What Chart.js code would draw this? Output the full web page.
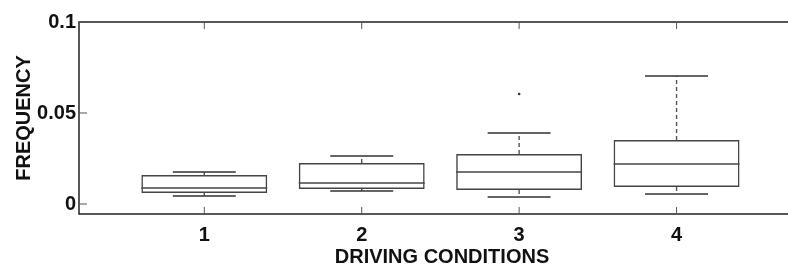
<!DOCTYPE html>
<html>
<head>
<meta charset="utf-8">
<script src="https://cdn.jsdelivr.net/npm/chart.js@4"></script>
<style>
  html, body { margin: 0; padding: 0; background: #fff; overflow: hidden; }
  canvas { display: block; }
</style>
</head>
<body>
<canvas id="box-chart" width="809" height="266"></canvas>
<script>
// box plot values
const conditions = [1, 2, 3, 4];
const lowerWhisker = [0.0044, 0.0071, 0.0038, 0.0055];
const q1 = [0.0060, 0.0082, 0.0077, 0.0093];
const median = [0.0088, 0.0115, 0.0176, 0.0220];
const q3 = [0.0159, 0.0225, 0.0275, 0.0352];
const upperWhisker = [0.0176, 0.0264, 0.0390, 0.0703];
const outlierX = [3];
const outlierY = [0.0604];
const yTicks = [0, 0.05, 0.1];
const yTickLabels = ["0", "0.05", "0.1"];

const boxData = conditions.map((c, i) => ({ x: c, y: [q1[i], q3[i]] }));
const outlierData = outlierX.map((x, i) => ({ x: x, y: outlierY[i] }));

const boxPlotPlugin = {
  id: "boxPlot",
  afterDatasetsDraw(chart) {
    const ctx = chart.ctx;
    const xs = chart.scales.x;
    const ys = chart.scales.y;
    const area = chart.chartArea;
    ctx.save();

    conditions.forEach((c, i) => {
      const cx = xs.getPixelForValue(c);
      const capL = xs.getPixelForValue(c - 0.2);
      const capR = xs.getPixelForValue(c + 0.2);
      const boxL = xs.getPixelForValue(c - 0.4);
      const boxR = xs.getPixelForValue(c + 0.4);

      // median
      ctx.strokeStyle = "#444";
      ctx.lineWidth = 1.4;
      ctx.setLineDash([]);
      ctx.beginPath();
      ctx.moveTo(boxL, ys.getPixelForValue(median[i]));
      ctx.lineTo(boxR, ys.getPixelForValue(median[i]));
      ctx.stroke();

      // whiskers (dashed)
      ctx.strokeStyle = "#555";
      ctx.setLineDash([4, 3]);
      ctx.beginPath();
      ctx.moveTo(cx, ys.getPixelForValue(q3[i]));
      ctx.lineTo(cx, ys.getPixelForValue(upperWhisker[i]));
      ctx.moveTo(cx, ys.getPixelForValue(q1[i]));
      ctx.lineTo(cx, ys.getPixelForValue(lowerWhisker[i]));
      ctx.stroke();

      // caps
      ctx.setLineDash([]);
      ctx.strokeStyle = "#333";
      ctx.lineWidth = 1.5;
      ctx.beginPath();
      ctx.moveTo(capL, ys.getPixelForValue(upperWhisker[i]));
      ctx.lineTo(capR, ys.getPixelForValue(upperWhisker[i]));
      ctx.moveTo(capL, ys.getPixelForValue(lowerWhisker[i]));
      ctx.lineTo(capR, ys.getPixelForValue(lowerWhisker[i]));
      ctx.stroke();
    });

    // frame: left, top, bottom
    ctx.strokeStyle = "#222";
    ctx.lineWidth = 1.5;
    ctx.beginPath();
    ctx.moveTo(area.right, area.top);
    ctx.lineTo(area.left, area.top);
    ctx.lineTo(area.left, area.bottom);
    ctx.lineTo(area.right, area.bottom);
    ctx.stroke();

    // inward tick marks
    ctx.strokeStyle = "#555";
    ctx.lineWidth = 1;
    ctx.beginPath();
    yTicks.forEach((v) => {
      const y = ys.getPixelForValue(v);
      ctx.moveTo(area.left, y);
      ctx.lineTo(area.left + 8, y);
    });
    conditions.forEach((c) => {
      const x = xs.getPixelForValue(c);
      ctx.moveTo(x, area.bottom);
      ctx.lineTo(x, area.bottom - 7);
      ctx.moveTo(x, area.top);
      ctx.lineTo(x, area.top + 7);
    });
    ctx.stroke();
    ctx.restore();
  },
};

const font = { family: "'Liberation Sans', Arial, sans-serif", size: 20, weight: "bold" };

new Chart(document.getElementById("box-chart"), {
  type: "bar",
  data: {
    datasets: [
      {
        type: "bar",
        data: boxData,
        backgroundColor: "rgba(255,255,255,0)",
        borderColor: "#444",
        borderWidth: 1.5,
        borderSkipped: false,
        barPercentage: 0.8,
        categoryPercentage: 1.0,
      },
      {
        type: "scatter",
        data: outlierData,
        pointRadius: 1.3,
        pointBackgroundColor: "#333",
        pointBorderColor: "#333",
        pointBorderWidth: 0,
      },
    ],
  },
  options: {
    responsive: false,
    animation: false,
    layout: { padding: { top: 22, right: 0, bottom: 0, left: 0 } },
    plugins: { legend: { display: false }, tooltip: { enabled: false } },
    scales: {
      x: {
        type: "linear",
        offset: false,
        min: 0.204,
        max: 4.816,
        grid: { display: false, drawTicks: false },
        border: { display: false },
        afterBuildTicks: (scale) => {
          scale.ticks = conditions.map((c) => ({ value: c }));
        },
        afterFit: (scale) => {
          scale.height = 52;
        },
        ticks: { color: "#111", font: font, padding: 9, maxRotation: 0 },
        title: {
          display: true,
          text: "DRIVING CONDITIONS",
          color: "#111",
          font: font,
          padding: { top: 0, bottom: -3 },
        },
      },
      y: {
        min: -0.0055,
        max: 0.1,
        grid: { display: false, drawTicks: false },
        border: { display: false },
        afterBuildTicks: (scale) => {
          scale.ticks = yTicks.map((v) => ({ value: v }));
        },
        afterFit: (scale) => {
          scale.width = 79;
        },
        ticks: {
          color: "#111",
          font: font,
          padding: 3,
          callback: (value) => yTickLabels[yTicks.indexOf(value)] ?? "",
        },
        title: {
          display: true,
          text: "FREQUENCY",
          color: "#111",
          font: font,
          padding: { top: 12, bottom: 0 },
        },
      },
    },
  },
  plugins: [boxPlotPlugin],
});
</script>
</body>
</html>
